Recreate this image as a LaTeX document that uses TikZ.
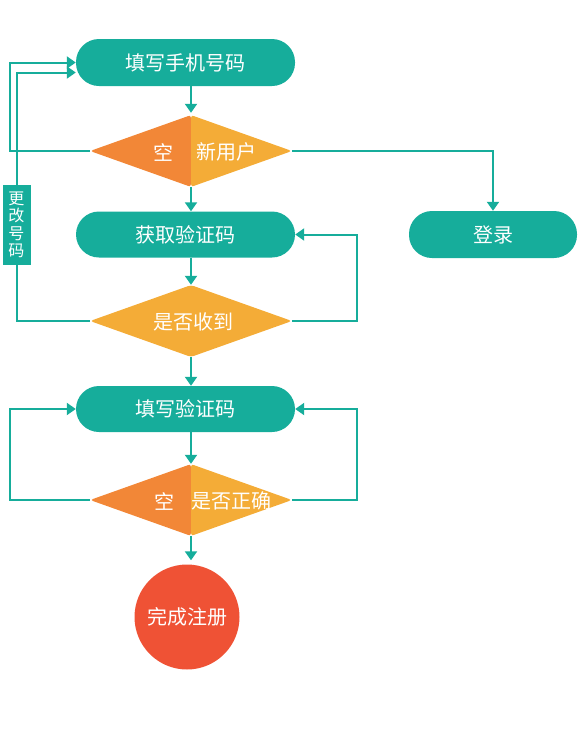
\documentclass[tikz,border=0pt]{standalone}
\usepackage{fontspec}
\newfontfamily\cjk{Noto Sans CJK SC}
\usetikzlibrary{shapes.geometric,arrows.meta}
\definecolor{teal1}{HTML}{16AD9B}
\definecolor{orgA}{HTML}{F28737}
\definecolor{orgB}{HTML}{F4AC37}
\definecolor{redC}{HTML}{EF5235}
\tikzset{
  pill/.style={rectangle, fill=teal1, rounded corners=23pt, text=white, font=\cjk\fontsize{20}{22}\selectfont, inner sep=0pt},
  splitdia/.style={diamond, minimum width=202pt, minimum height=72pt, inner sep=0pt, rounded corners=3pt,
    path picture={\fill[orgA] (path picture bounding box.south west) rectangle (path picture bounding box.north);
                  \fill[orgB] (path picture bounding box.south) rectangle (path picture bounding box.north east);}},
  fulldia/.style={diamond, minimum width=202pt, minimum height=72pt, inner sep=0pt, rounded corners=3pt, fill=orgB},
  dtxt/.style={text=white, font=\cjk\fontsize{20}{22}\selectfont, inner sep=0pt},
  conn/.style={draw=teal1, line width=2pt},
  arr/.style={conn, -{Triangle[width=12pt,length=9pt]}},
  sidelab/.style={rectangle, fill=teal1, text=white, minimum width=28pt, minimum height=80pt, inner sep=0pt, align=center, font=\cjk\fontsize{16}{17.5}\selectfont},
}
\begin{document}
\begin{tikzpicture}[x=1pt,y=-1pt]
\useasboundingbox (0,0) rectangle (587,740);
% nodes
\node[pill, minimum width=219pt, minimum height=47pt] (p1) at (185.5,62.5) {填写手机号码};
\node[splitdia] (d1) at (191,151) {};
\node[dtxt] (d1a) at (163,152) {空};
\node[dtxt] (d1b) at (226,152) {新用户};
\node[pill, minimum width=168pt, minimum height=47pt] (login) at (493,234.5) {登录};
\node[pill, minimum width=219pt, minimum height=46pt] (p2) at (185.5,234.5) {获取验证码};
\node[fulldia] (d2) at (191,321) {};
\node[dtxt] (d2a) at (193,322) {是否收到};
\node[pill, minimum width=219pt, minimum height=46pt] (p3) at (185.5,409) {填写验证码};
\node[splitdia] (d3) at (191,500) {};
\node[dtxt] (d3a) at (164,501) {空};
\node[dtxt] (d3b) at (231,501) {是否正确};
\node[circle, fill=redC, minimum size=105pt, inner sep=0pt, text=white, font=\cjk\fontsize{20}{22}\selectfont] (done) at (187,617) {完成注册};
\node[sidelab] (chg) at (16.5,225) {更\\改\\号\\码};
% connectors
\draw[arr, shorten >=2pt] (p1.south -| d1.north) -- (d1.north);
\draw[arr] (d1.south) -- (p2.north -| d1.south);
\draw[arr] (p2.south -| d2.north) -- (d2.north);
\draw[arr] (d2.south) -- (p3.north -| d2.south);
\draw[arr] (p3.south -| d3.north) -- (d3.north);
\draw[arr, shorten >=4pt] (d3.south) -- (done.north -| d3.south);
\draw[arr] (d1.west) -- ++(-80,0) |- (p1.west);
\draw[conn] (d2.west) -| (chg.south);
\draw[arr] (chg.north) |- ([yshift=-10pt]p1.west);
\draw[arr] (d1.east) -| (login.north);
\draw[arr] (d2.east) -- ++(65,0) |- (p2.east);
\draw[arr] (d3.west) -- ++(-80,0) |- (p3.west);
\draw[arr] (d3.east) -- ++(65,0) |- (p3.east);
\end{tikzpicture}
\end{document}
